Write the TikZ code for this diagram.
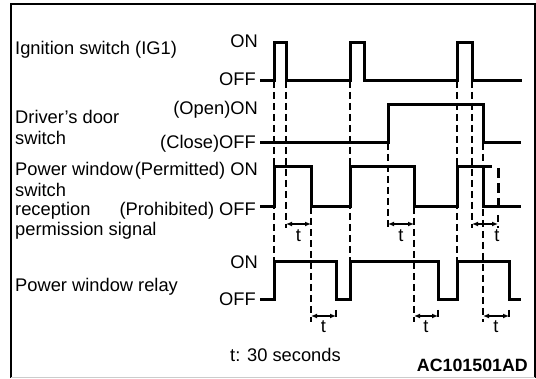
\documentclass[tikz,border=0pt]{standalone}
\usepackage{fontspec}
\setmainfont{Liberation Sans}
\usetikzlibrary{arrows.meta}
\begin{document}
\begin{tikzpicture}[x=1pt,y=-1pt,
  wave/.style={line width=3pt, line join=miter},
  guide/.style={line width=1.2pt, dash pattern=on 7pt off 4pt},
  thickdash/.style={line width=3pt, dash pattern=on 10pt off 5pt},
  tarrow/.style={line width=1.2pt, {Latex[length=6pt,width=5pt]}-{Latex[length=6pt,width=5pt]}},
  lbl/.style={inner sep=0pt, font=\fontsize{18.3}{21}\selectfont},
  code/.style={inner sep=0pt, font=\fontsize{17.8}{21}\selectfont\bfseries}]
\useasboundingbox (0,0) rectangle (536,379);
% frame
\draw[line width=1.3pt] (11,378) -- (11,4) -- (535,4) -- (535,378);
\draw[line width=1pt, black!20] (11,378) -- (535,378);

% left labels
\node[lbl, anchor=base west] (ig) at (15,55) {Ignition switch (IG1)};
\node[lbl, anchor=base west] (dr1) at (15,123.5) {Driver's door};
\node[lbl, anchor=base west] (dr2) at (15,145) {switch};
\node[lbl, anchor=base west] (pw1) at (15,176) {Power window};
\node[lbl, anchor=base west] (pw2) at (15,196.5) {switch};
\node[lbl, anchor=base west] (pw3) at (15,216) {reception};
\node[lbl, anchor=base west] (pw4) at (15,235.5) {permission signal};
\node[lbl, anchor=base west] (rl) at (15,292) {Power window relay};

% level labels
\node[lbl, anchor=base east] (igon) at (258,48) {ON};
\node[lbl, anchor=base east] (igoff) at (256,86) {OFF};
\node[lbl, anchor=base east] (dron) at (258,115) {(Open)ON};
\node[lbl, anchor=base east] (droff) at (256,149) {(Close)OFF};
\node[lbl, anchor=base east] (pwon) at (258,176) {(Permitted) ON};
\node[lbl, anchor=base east] (pwoff) at (256,216) {(Prohibited) OFF};
\node[lbl, anchor=base east] (rlon) at (258,269) {ON};
\node[lbl, anchor=base east] (rloff) at (256,306) {OFF};

% bottom texts
\node[lbl, anchor=base west] (note) at (230,362) {t: 30 seconds};
\node[code, anchor=base east] (id) at (528,372) {AC101501AD};

% guide lines
\draw[guide] (274,81) -- (274,262);
\draw[guide] (286,81) -- (286,228);
\draw[guide] (311,207) -- (311,322);
\draw[guide] (336,310) -- (336,321);
\draw[guide] (350,81) -- (350,262);
\draw[guide] (388,143) -- (388,228);
\draw[guide] (414,207) -- (414,322);
\draw[guide] (438,310) -- (438,321);
\draw[guide] (457,81) -- (457,262);
\draw[guide] (472,81) -- (472,228);
\draw[guide] (483,143) -- (483,322);
\draw[guide] (498,215) -- (498,228);
\draw[guide] (509,310) -- (509,321);

% waveforms
\draw[wave] (260,81) -- (274,81) -- (274,43) -- (286,43) -- (286,81) -- (350,81) -- (350,43) -- (364,43) -- (364,81) -- (457,81) -- (457,43) -- (472,43) -- (472,81) -- (522,81);
\draw[wave] (260,143) -- (388,143) -- (388,105) -- (483,105) -- (483,143) -- (521,143);
\draw[wave] (260,207) -- (274,207) -- (274,167) -- (311,167) -- (311,207) -- (350,207) -- (350,167) -- (414,167) -- (414,207) -- (457,207) -- (457,167) -- (492,167);
\draw[wave] (483,167) -- (483,207) -- (521,207);
\draw[thickdash] (498,168) -- (498,206);
\draw[wave] (260,300) -- (274,300) -- (274,262) -- (336,262) -- (336,300) -- (350,300) -- (350,262) -- (438,262) -- (438,300) -- (457,300) -- (457,262) -- (509,262) -- (509,300) -- (521,300);

% t intervals
\draw[tarrow] (286,224) -- (311,224);
\node[lbl] (t1) at (298.5,236) {t};
\draw[tarrow] (388,224) -- (414,224);
\node[lbl] (t2) at (401,236) {t};
\draw[tarrow] (472,224) -- (498,224);
\node[lbl] (t3) at (497,236) {t};
\draw[tarrow] (311,316) -- (336,316);
\node[lbl] (t4) at (323.5,327) {t};
\draw[tarrow] (414,316) -- (438,316);
\node[lbl] (t5) at (426,327) {t};
\draw[tarrow] (483,316) -- (509,316);
\node[lbl] (t6) at (496,327) {t};
\end{tikzpicture}
\end{document}
